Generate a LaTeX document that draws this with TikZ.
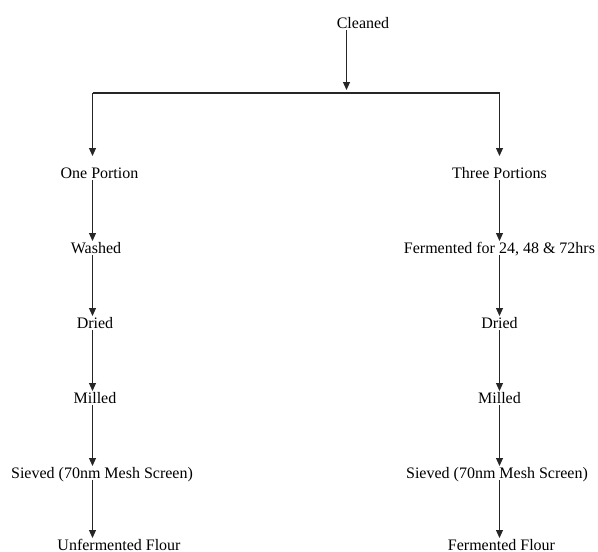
\documentclass[tikz,border=0pt]{standalone}
\usepackage{fontspec}
\setmainfont{Liberation Serif}
\usetikzlibrary{arrows.meta,calc}
\begin{document}
\begin{tikzpicture}[x=1pt,y=-1pt,
  lbl/.style={inner sep=0pt,anchor=base,font=\fontsize{16}{19}\selectfont},
  conn/.style={line width=1.1pt,draw=black!85},
  arr/.style={conn,-{Triangle[length=8pt,width=7pt]}}]
\useasboundingbox (0,0) rectangle (598,552);
% column / junction coordinates
\coordinate (L) at (92.5,93);
\coordinate (R) at (499.5,93);
\coordinate (C) at (346.5,93);
% texts
\node[lbl] (cl) at (363,28) {Cleaned};
\node[lbl] (op) at (99.5,178) {One Portion};
\node[lbl] (wa) at (96,253) {Washed};
\node[lbl] (dl) at (95,328) {Dried};
\node[lbl] (ml) at (95,403) {Milled};
\node[lbl] (sl) at (102,478) {Sieved (70nm Mesh Screen)};
\node[lbl] (uf) at (119,550) {Unfermented Flour};
\node[lbl] (tp) at (499.5,178) {Three Portions};
\node[lbl] (fe) at (499.5,253) {Fermented for 24, 48 \& 72hrs};
\node[lbl] (dr) at (499.5,328) {Dried};
\node[lbl] (mr) at (499.5,403) {Milled};
\node[lbl] (sr) at (497,478) {Sieved (70nm Mesh Screen)};
\node[lbl] (ff) at (501.5,550) {Fermented Flour};
% connectors
\draw[arr] ($(C|-cl.base)+(0,2)$) -- ($(C)+(0,-3)$);
\draw[conn] (L) -- (R);
\draw[arr] (L) -- ($(L|-op.base)+(0,-22)$);
\draw[arr] (R) -- ($(R|-tp.base)+(0,-22)$);
\foreach \a/\b in {op/wa,wa/dl,dl/ml,ml/sl,sl/uf}{
  \draw[arr] ($(L|-\a.base)+(0,2)$) -- ($(L|-\b.base)+(0,-12)$);
}
\foreach \a/\b in {tp/fe,fe/dr,dr/mr,mr/sr,sr/ff}{
  \draw[arr] ($(R|-\a.base)+(0,2)$) -- ($(R|-\b.base)+(0,-12)$);
}
\end{tikzpicture}
\end{document}
